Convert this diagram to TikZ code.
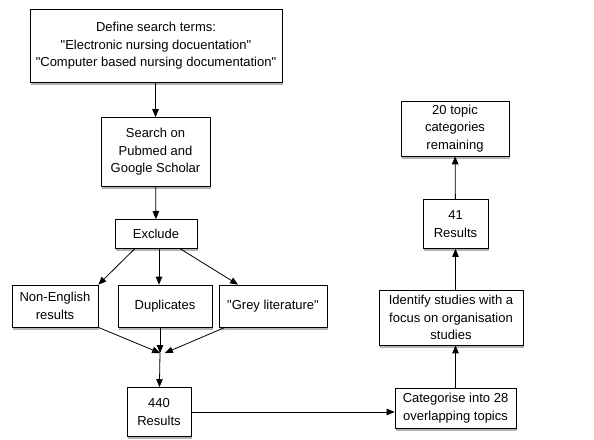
\documentclass[tikz,border=0pt]{standalone}
\usepackage{fontspec}
\setmainfont{Liberation Sans}[Ligatures=TeXOff]
\usetikzlibrary{arrows, shadows}

\begin{document}
\begin{tikzpicture}[x=1pt, y=-1pt,
		every edge/.style = {draw=black, thick, -triangle 45},
		bx/.style = {rectangle, draw, thick, fill=white, align=center,
			font=\fontsize{13}{17.5}\selectfont, inner sep=2pt,
			drop shadow={opacity=0.6, shadow xshift=1pt, shadow yshift=-2.5pt}}
                    ]
		\useasboundingbox (0,0) rectangle (594,439);

		\node(terms) [bx, minimum width=252pt, minimum height=73pt] at (156,46)
			{Define search terms:\\"Electronic nursing docuentation"\\"Computer based nursing documentation"};
		\node(search) [bx, minimum width=109pt, minimum height=69pt] at (155.5,152)
			{Search on\\Pubmed and\\Google Scholar};
		\node(exclude) [bx, minimum width=82pt, minimum height=29pt] at (156,234) {Exclude};
		\node(noneng) [bx, minimum width=86pt, minimum height=42pt] at (55,306) {Non-English\\results};
		\node(dupl) [bx, minimum width=94pt, minimum height=42pt] at (165,306) {Duplicates};
		\node(grey) [bx, minimum width=108pt, minimum height=42pt] at (273,306) {"Grey literature"};
		\coordinate (merge) at (160,353);
		\node(res440) [bx, minimum width=64pt, minimum height=49pt] at (159,412) {440\\Results};
		\node(categ) [bx, minimum width=121pt, minimum height=40pt] at (455.5,408)
			{Categorise into 28\\overlapping topics};
		\node(ident) [bx, minimum width=144pt, minimum height=55pt] at (451,317.5)
			{Identify studies with a\\focus on organisation\\studies};
		\node(res41) [bx, minimum width=65pt, minimum height=49pt] at (455.5,224) {41\\Results};
		\node(topics) [bx, minimum width=108pt, minimum height=55pt] at (455,128.5)
			{20 topic\\categories\\remaining};

		\path   (terms.south -| search) edge (search)
			(search) edge (exclude)
			(exclude.south west) ++(20,0) edge (noneng.north east)
			(exclude.south) ++(3,0) edge ([xshift=3pt]dupl.north -| exclude.south)
			(exclude.south east) ++(-17,0) edge ([xshift=-35pt]grey.north)
			(noneng.south east) edge (merge)
			(dupl.south -| merge) edge (merge)
			([xshift=-48pt]grey.south) edge ([xshift=5pt]merge)
			(merge) edge (res440)
			(res440) edge (res440 -| categ.west)
			(categ) edge (categ.north |- ident.south)
			(ident.north -| categ) edge (categ |- res41.south)
			(res41) edge (topics);
	\end{tikzpicture}
\end{document}
